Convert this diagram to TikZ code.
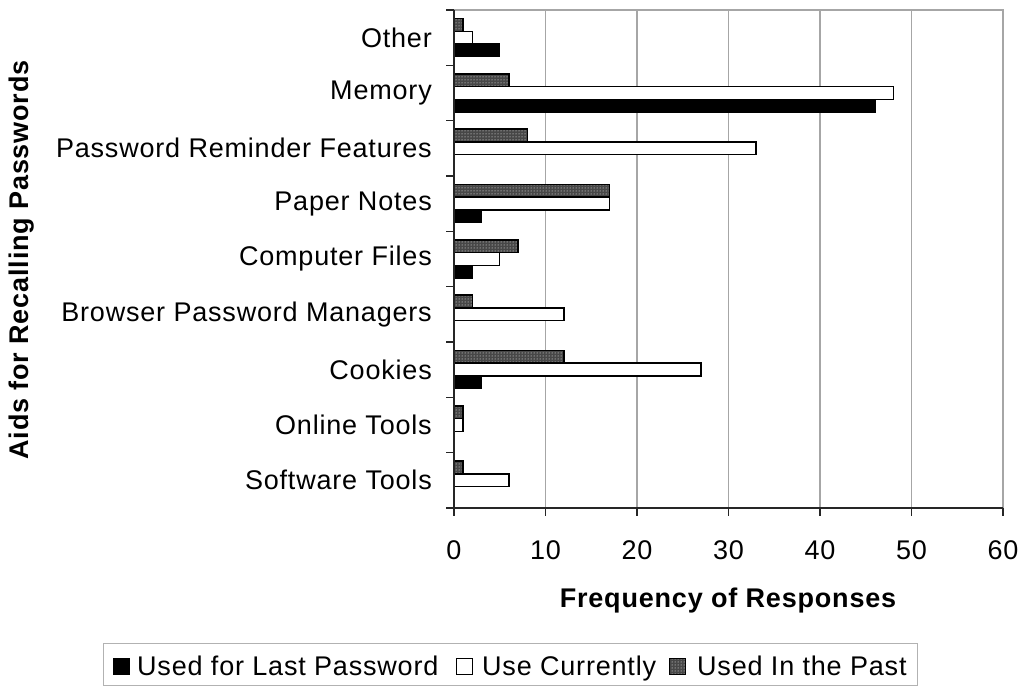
\documentclass[tikz,border=0pt]{standalone}
\usepackage{fontspec}
\setmainfont{Liberation Sans}[LetterSpace=3]
\usetikzlibrary{patterns}
\tikzset{
  bar/.style={draw=black, line width=1.4pt},
  lastbar/.style={bar, fill=black},
  curbar/.style={bar, fill=white},
  pastbar/.style={bar, preaction={fill=black!72}, pattern=dots, pattern color=white},
  gridline/.style={draw=black!35, line width=1.2pt},
  axisline/.style={draw=black!85, line width=1.4pt},
  catlabel/.style={anchor=east, inner sep=0pt, font=\fontsize{27}{32}\selectfont},
  ticklabel/.style={inner sep=0pt, font=\fontsize{27}{32}\selectfont},
  axistitle/.style={inner sep=0pt, font=\fontsize{27}{32}\selectfont\bfseries},
  legtext/.style={anchor=base west, inner sep=0pt, font=\fontsize{27}{32}\selectfont},
}
\begin{document}
\begin{tikzpicture}[x=1pt,y=-1pt]
\useasboundingbox[fill=white] (0,0) rectangle (1021,686);
% grid
\foreach \v in {10,20,30,40,50}{
  \draw[gridline] ({454+\v*9.15},10) -- ({454+\v*9.15},508);
}
\draw[gridline] (446,10) -- (1003,10) -- (1003,508);
% bars
\foreach \n/\p/\c/\l [count=\i from 0] in {Other/1/2/5, Memory/6/48/46, Password Reminder Features/8/33/0, Paper Notes/17/17/3, Computer Files/7/5/2, Browser Password Managers/2/12/0, Cookies/12/27/3, Online Tools/1/1/0, Software Tools/1/6/0}{
  \pgfmathsetmacro\t{10+\i*55.33+8.5}
  \draw[pastbar] (454,\t) rectangle ({454+\p*9.15},{\t+12.7});
  \draw[curbar] (454,{\t+12.7}) rectangle ({454+\c*9.15},{\t+25.4});
  \ifnum\l>0
    \draw[lastbar] (454,{\t+25.4}) rectangle ({454+\l*9.15},{\t+38.1});
  \fi
  \node[catlabel] (lab\i) at (432,{10+(\i+0.5)*55.33}) {\n};
}
% axes
\draw[axisline] (454,10) -- (454,508) -- (1003,508);
\foreach \k in {0,...,9}{
  \draw[axisline] (446,{10+\k*55.33}) -- (454,{10+\k*55.33});
}
\foreach \v in {0,10,...,60}{
  \draw[axisline] ({454+\v*9.15},508) -- ({454+\v*9.15},516);
  \node[ticklabel] (tick\v) at ({454+\v*9.15},550) {\v};
}
\node[axistitle] (xtitle) at (728,601) {Frequency of Responses};
\node[axistitle, rotate=90] (ytitle) at (22,260) {Aids for Recalling Passwords};
% legend
\draw[draw=black!30, line width=1pt] (103,643) rectangle (917,685);
\draw[lastbar, line width=1pt] (113,658) rectangle (129,674);
\node[legtext] (leg1) at (137,675) {Used for Last Password};
\draw[curbar, line width=1pt] (456,658) rectangle (472,674);
\node[legtext] (leg2) at (482,675) {Use Currently};
\draw[pastbar, line width=1pt] (669,658) rectangle (685,674);
\node[legtext] (leg3) at (697,675) {Used In the Past};
\end{tikzpicture}
\end{document}
